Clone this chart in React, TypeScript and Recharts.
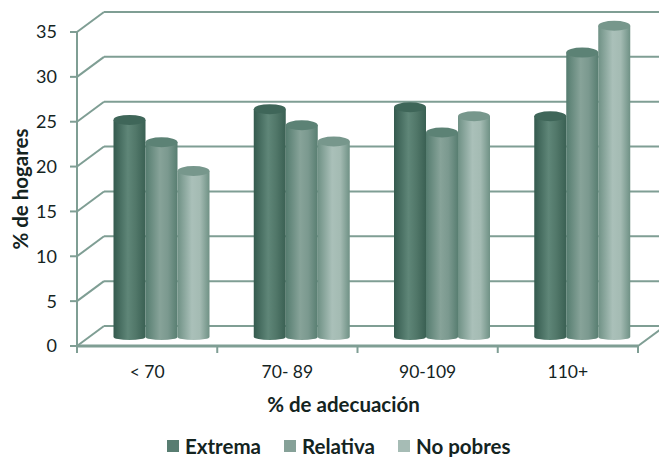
import { Bar, BarChart, CartesianGrid, Legend, XAxis, YAxis } from "recharts";

const categories = ["< 70", "70- 89", "90-109", "110+"];
const extrema = [24.2, 25.4, 25.6, 24.6];
const relativa = [21.7, 23.6, 22.8, 31.7];
const noPobres = [18.5, 21.8, 24.6, 34.7];
const yTicks = [0, 5, 10, 15, 20, 25, 30, 35];

const data = categories.map((name, i) => ({
  name,
  extrema: extrema[i],
  relativa: relativa[i],
  noPobres: noPobres[i],
}));

const LINE = "#7f9e94";
const TEXT = "#14241f";
const FONT = "Lato, 'Open Sans', sans-serif";

// 3D depth of the chart box, and how far the cylinders sit into it
const DEPTH_X = 27;
const DEPTH_Y = 20;
const BAR_X = 14.5;
const BAR_Y = 9;

const PLOT_WIDTH = 561;
const BAND = PLOT_WIDTH / categories.length;

const series = [
  { key: "extrema", name: "Extrema", id: "cylA", swatch: "#587d71", top: "#3f6659", stops: ["#345a4e", "#5f8678", "#517769", "#3a6053"] },
  { key: "relativa", name: "Relativa", id: "cylB", swatch: "#86a198", top: "#5c8275", stops: ["#557c6f", "#87a399", "#7b998f", "#587e71"] },
  { key: "noPobres", name: "No pobres", id: "cylC", swatch: "#a6bcb5", top: "#77978c", stops: ["#6f9185", "#aac0b9", "#a4bbb3", "#6f9185"] },
];

function Cylinder(props: any, fill: string, top: string) {
  const { x, y, width, height } = props;
  const cx = x + BAR_X;
  const cy = y - BAR_Y;
  const rx = width / 2;
  const d =
    `M${cx},${cy} L${cx},${cy + height}` +
    ` A${rx},3 0 0 0 ${cx + width},${cy + height}` +
    ` L${cx + width},${cy} Z`;
  return (
    <g>
      <path d={d} fill={fill} />
      <ellipse cx={cx + rx} cy={cy} rx={rx} ry={5} fill={top} />
    </g>
  );
}

// Gridline on the back wall plus the diagonal running to it across the side wall
function WallLine(props: any) {
  const { x1, y1, x2 } = props;
  return (
    <g stroke={LINE} strokeWidth={2} fill="none">
      <line x1={x1} y1={y1} x2={x1 + DEPTH_X} y2={y1 - DEPTH_Y} />
      <line x1={x1 + DEPTH_X} y1={y1 - DEPTH_Y} x2={x2 + DEPTH_X} y2={y1 - DEPTH_Y} />
    </g>
  );
}

function CategoryTick(props: any) {
  const { x, y, payload, index } = props;
  const left = payload.coordinate - BAND / 2;
  const floor = y - 8;
  return (
    <g>
      <line x1={left} y1={floor} x2={left} y2={floor + 7} stroke={LINE} strokeWidth={2} />
      {index === categories.length - 1 && (
        <g stroke={LINE} strokeWidth={2}>
          <line x1={left + BAND} y1={floor} x2={left + BAND} y2={floor + 7} />
          <line x1={left + BAND} y1={floor} x2={left + BAND + DEPTH_X} y2={floor - DEPTH_Y} />
        </g>
      )}
      <text x={x} y={floor + 32} textAnchor="middle" fontSize={17.5} fontFamily={FONT} fill={TEXT}>
        {payload.value}
      </text>
    </g>
  );
}

function LegendRow() {
  return (
    <div style={{ display: "flex", paddingLeft: 167, fontFamily: FONT, fontWeight: 700, fontSize: 20.5, color: TEXT, lineHeight: "22px" }}>
      {series.map((s) => (
        <span key={s.key} style={{ display: "inline-flex", alignItems: "center", marginRight: 23 }}>
          <span style={{ width: 12, height: 12, background: s.swatch, marginRight: 6 }} />
          {s.name}
        </span>
      ))}
    </div>
  );
}

export default function App() {
  return (
    <div style={{ position: "absolute", left: 0, top: 0, width: 659, height: 457, overflow: "hidden", background: "#fff" }}>
      <BarChart
        width={659}
        height={457}
        data={data}
        margin={{ top: 32, right: 21, left: 0, bottom: 0 }}
        barCategoryGap={22}
        barGap={0}
      >
        <defs>
          {series.map((s) => (
            <linearGradient key={s.id} id={s.id} x1="0" y1="0" x2="1" y2="0">
              <stop offset="0%" stopColor={s.stops[0]} />
              <stop offset="45%" stopColor={s.stops[1]} />
              <stop offset="70%" stopColor={s.stops[2]} />
              <stop offset="100%" stopColor={s.stops[3]} />
            </linearGradient>
          ))}
        </defs>
        <CartesianGrid vertical={false} horizontal={(p: any) => <WallLine {...p} key={p.key ?? p.y1} />} />
        <XAxis
          dataKey="name"
          height={89}
          tickLine={false}
          axisLine={{ stroke: LINE, strokeWidth: 3 }}
          tick={CategoryTick}
          interval={0}
          label={{
            value: "% de adecuación",
            position: "insideTop",
            dx: -14,
            dy: 46,
            style: { fontFamily: FONT, fontWeight: 700, fontSize: 20.5, fill: TEXT },
          }}
        />
        <YAxis
          domain={[0, 35]}
          ticks={yTicks}
          width={77}
          tickSize={7}
          tickMargin={13}
          interval={0}
          axisLine={{ stroke: LINE, strokeWidth: 2 }}
          tickLine={{ stroke: LINE, strokeWidth: 2 }}
          tick={{ fontFamily: FONT, fontSize: 18, fill: TEXT }}
          label={{
            value: "% de hogares",
            angle: -90,
            position: "insideLeft",
            dx: 16,
            style: { textAnchor: "middle", fontFamily: FONT, fontWeight: 700, fontSize: 20.5, fill: TEXT },
          }}
        />
        <Legend content={<LegendRow />} verticalAlign="bottom" wrapperStyle={{ left: 0, width: 659, bottom: 0 }} />
        {series.map((s) => (
          <Bar
            key={s.key}
            dataKey={s.key}
            name={s.name}
            isAnimationActive={false}
            shape={(p: any) => Cylinder(p, `url(#${s.id})`, s.top)}
          />
        ))}
      </BarChart>
    </div>
  );
}
